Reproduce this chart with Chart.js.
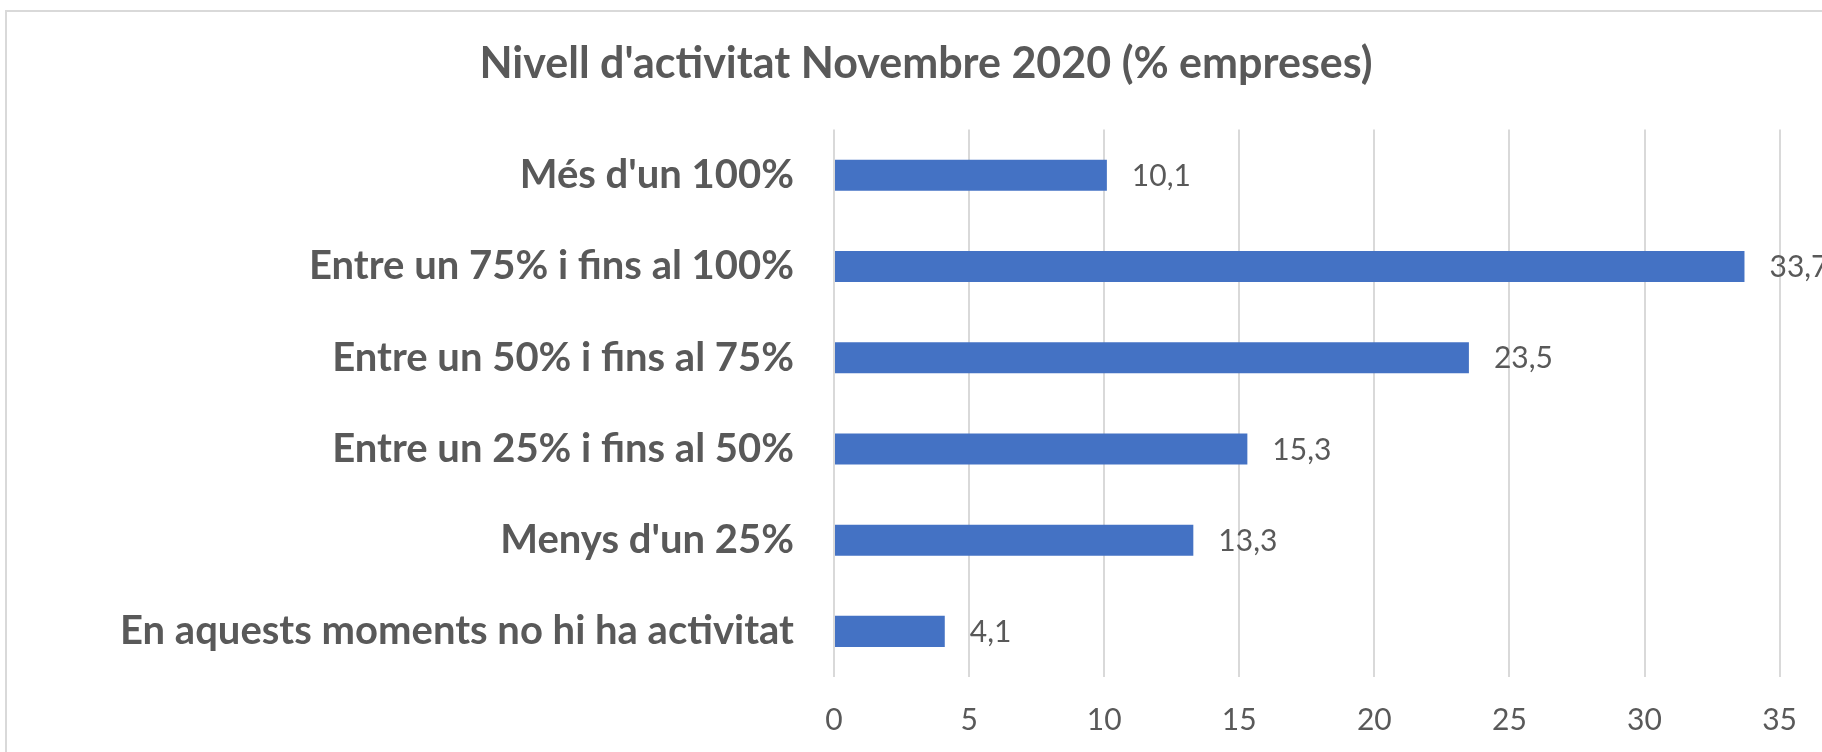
<!DOCTYPE html>
<html>
<head>
<meta charset="utf-8">
<script src="https://cdn.jsdelivr.net/npm/chart.js@4.4.0/dist/chart.umd.min.js"></script>
<style>
  html, body { margin: 0; padding: 0; background: #fff; overflow: hidden; }
  body { width: 1822px; height: 752px; position: relative; }
  .frame { position: absolute; left: 5px; top: 10px; width: 1900px; height: 800px; border: 2px solid #d9d9d9; }
  #chart-wrap { position: absolute; left: 0; top: 0; width: 1822px; height: 752px; }
</style>
</head>
<body>
<div class="frame"></div>
<div id="chart-wrap"><canvas id="chart"></canvas></div>
<script>
'use strict';

// ── DATA ─────────────────────────────────────────────
const CATEGORIES = [
  "Més d'un 100%",
  'Entre un 75% i fins al 100%',
  'Entre un 50% i fins al 75%',
  'Entre un 25% i fins al 50%',
  "Menys d'un 25%",
  'En aquests moments no hi ha activitat'
];
const VALUES = [10.1, 33.7, 23.5, 15.3, 13.3, 4.1];
const X_TICKS = [0, 5, 10, 15, 20, 25, 30, 35];
const TITLE = "Nivell d'activitat Novembre 2020 (% empreses)";

const FONT = 'Lato, "Open Sans", sans-serif';
const GREY = '#595959';

// value labels at the end of each bar, comma decimals
const barLabels = {
  id: 'barLabels',
  afterDatasetsDraw(chart) {
    const { ctx } = chart;
    const meta = chart.getDatasetMeta(0);
    ctx.save();
    ctx.font = '30px ' + FONT;
    ctx.fillStyle = GREY;
    ctx.textAlign = 'left';
    ctx.textBaseline = 'middle';
    meta.data.forEach((bar, i) => {
      ctx.fillText(VALUES[i].toFixed(1).replace('.', ','), bar.x + 25, bar.y + 1);
    });
    ctx.restore();
  }
};

new Chart(document.getElementById('chart'), {
  type: 'bar',
  data: {
    labels: CATEGORIES,
    datasets: [{
      data: VALUES,
      backgroundColor: '#4472C4',
      borderWidth: 0,
      categoryPercentage: 1,
      barPercentage: 0.34
    }]
  },
  options: {
    indexAxis: 'y',
    responsive: true,
    maintainAspectRatio: false,
    animation: false,
    // left padding shifts the centred title to where it sits in the original
    layout: { padding: { left: 72, right: 42, top: 0, bottom: 0 } },
    plugins: {
      legend: { display: false },
      tooltip: { enabled: false },
      title: {
        display: true,
        text: TITLE,
        color: GREY,
        font: { family: FONT, size: 43, weight: 'bold', lineHeight: 1.2 },
        padding: { top: 38, bottom: 40 }
      }
    },
    scales: {
      x: {
        min: 0,
        max: 35,
        afterBuildTicks(scale) { scale.ticks = X_TICKS.map(v => ({ value: v })); },
        afterFit(scale) { scale.height = 75; },
        grid: { color: '#d9d9d9', lineWidth: 2, drawTicks: false },
        border: { display: false },
        ticks: { color: GREY, padding: 25, font: { family: FONT, size: 30 } }
      },
      y: {
        afterFit(scale) { scale.width = 762; },
        grid: { display: false, drawTicks: false },
        border: { display: false },
        ticks: { color: GREY, padding: 40, font: { family: FONT, size: 40, weight: 'bold' } }
      }
    }
  },
  plugins: [barLabels]
});
</script>
</body>
</html>
